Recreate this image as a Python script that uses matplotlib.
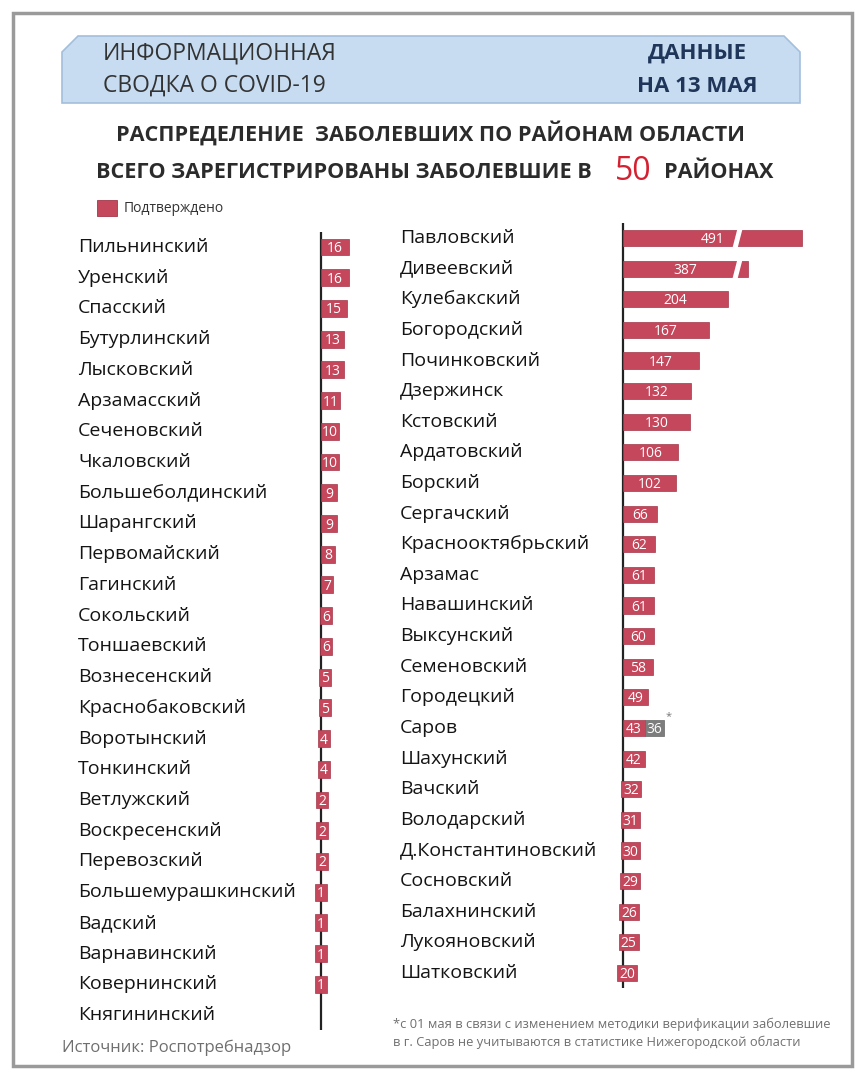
import numpy as np
import matplotlib.pyplot as plt
from matplotlib.patches import Polygon, Rectangle
from matplotlib.transforms import blended_transform_factory

plt.rcParams['font.family'] = ['Open Sans', 'DejaVu Sans']

# ---- data ----
left_names = ["Пильнинский", "Уренский", "Спасский", "Бутурлинский", "Лысковский",
              "Арзамасский", "Сеченовский", "Чкаловский", "Большеболдинский",
              "Шарангский", "Первомайский", "Гагинский", "Сокольский", "Тоншаевский",
              "Вознесенский", "Краснобаковский", "Воротынский", "Тонкинский",
              "Ветлужский", "Воскресенский", "Перевозский", "Большемурашкинский",
              "Вадский", "Варнавинский", "Ковернинский", "Княгининский"]
left_vals = [16, 16, 15, 13, 13, 11, 10, 10, 9, 9, 8, 7, 6, 6, 5, 5, 4, 4,
             2, 2, 2, 1, 1, 1, 1, 0]

right_names = ["Павловский", "Дивеевский", "Кулебакский", "Богородский",
               "Починковский", "Дзержинск", "Кстовский", "Ардатовский", "Борский",
               "Сергачский", "Краснооктябрьский", "Арзамас", "Навашинский",
               "Выксунский", "Семеновский", "Городецкий", "Саров", "Шахунский",
               "Вачский", "Володарский", "Д.Константиновский", "Сосновский",
               "Балахнинский", "Лукояновский", "Шатковский"]
right_vals = [491, 387, 204, 167, 147, 132, 130, 106, 102, 66, 62, 61, 61, 60,
              58, 49, 43, 42, 32, 31, 30, 29, 26, 25, 20]
sarov_extra = 36  # not counted since 1 May

RED = '#c4475b'
EDGE = '#a3374a'
GREY = '#7d7d7d'
TXT = '#141414'

W, H = 865, 1080
fig = plt.figure(figsize=(W / 100, H / 100), dpi=100)


def fx(x):
    return x / W


def fy(y):
    return 1 - y / H


# outer frame
fig.patches.append(Rectangle((fx(13), fy(1066)), fx(852) - fx(13), fy(13) - fy(1066),
                             transform=fig.transFigure, fill=False,
                             edgecolor='#9a9a9a', lw=2.5))

# header banner
pts = [(62, 103), (62, 52), (78, 36), (784, 36), (800, 52), (800, 103)]
fig.patches.append(Polygon([(fx(a), fy(b)) for a, b in pts], closed=True,
                           transform=fig.transFigure, facecolor='#c7dcf1',
                           edgecolor='#a4bfdb', lw=1.2))
fig.text(fx(103), fy(53), "ИНФОРМАЦИОННАЯ", fontsize=16.5, color='#333333',
         va='center', ha='left')
fig.text(fx(103), fy(86), "СВОДКА О COVID-19", fontsize=16.5, color='#333333',
         va='center', ha='left')
fig.text(fx(697), fy(53), "ДАННЫЕ", fontsize=16, color='#1f3559',
         fontweight='bold', va='center', ha='center')
fig.text(fx(697), fy(86), "НА 13 МАЯ", fontsize=16, color='#1f3559',
         fontweight='bold', va='center', ha='center')

# titles
fig.text(fx(430), fy(133), "РАСПРЕДЕЛЕНИЕ  ЗАБОЛЕВШИХ ПО РАЙОНАМ ОБЛАСТИ",
         fontsize=15.6, fontweight='bold', color='#2b2b2b', va='center', ha='center')
fig.text(fx(592), fy(172), "ВСЕГО ЗАРЕГИСТРИРОВАНЫ ЗАБОЛЕВШИЕ В",
         fontsize=15.6, fontweight='bold', color='#2b2b2b', va='center', ha='right')
fig.text(fx(633), fy(171), "50", fontsize=23, color='#d42030',
         va='center', ha='center')
fig.text(fx(664), fy(172), "РАЙОНАХ", fontsize=15.6, fontweight='bold',
         color='#2b2b2b', va='center', ha='left')

# legend
fig.patches.append(Rectangle((fx(97), fy(216)), fx(20), fy(0) - fy(16),
                             transform=fig.transFigure, facecolor=RED,
                             edgecolor=EDGE, lw=0.6))
fig.text(fx(124), fy(208), "Подтверждено", fontsize=10, color='#333333',
         va='center', ha='left')

# ---- left panel ----
axL = fig.add_axes([fx(300), fy(1030.4), fx(80), (1030.4 - 231.6) / H])
nL = len(left_names)
yL = np.arange(nL)
vL = np.array(left_vals, dtype=float)
minL = 7
wL = np.where(vL > 0, np.maximum(vL, minL), 0)
lL = -np.maximum(0, minL - vL) * 0.58
lL[vL == 0] = 0
axL.barh(yL[vL > 0], wL[vL > 0], left=lL[vL > 0], height=0.55,
         color=RED, edgecolor=EDGE, lw=0.5, zorder=3)
for i, v in enumerate(left_vals):
    if v > 0:
        axL.text(lL[i] + wL[i] / 2, i + 0.05, str(v), color='white', fontsize=10,
                 ha='center', va='center', zorder=4)
trL = blended_transform_factory(fig.transFigure, axL.transData)
for i, name in enumerate(left_names):
    axL.text(fx(78), i, name, transform=trL, fontsize=14, color=TXT,
             ha='left', va='center')
axL.axvline(0, color='#222222', lw=1.6, zorder=2)
axL.set_xlim(-12, 33.7)
axL.set_ylim(nL - 0.5, -0.5)
axL.axis('off')

# ---- right panel ----
axR = fig.add_axes([fx(600), fy(988.3), fx(230), (988.3 - 222.7) / H])
nR = len(right_names)
yR = np.arange(nR)
vR = np.array(right_vals, dtype=float)
minR = 38
cut = 144          # compression applied to the two very long (broken) bars
big = vR > 300
wR = np.where(big, vR - cut, np.maximum(vR, minR))
lR = -np.maximum(0, minR - vR) * 0.6
axR.barh(yR, wR, left=lR, height=0.53, color=RED, edgecolor=EDGE,
         lw=0.5, zorder=3)
# break marks on long bars
for i in np.where(big)[0]:
    h = 0.36
    axR.add_patch(Polygon([(212, i + h), (222, i + h), (233, i - h), (223, i - h)],
                          closed=True, facecolor='white', edgecolor='none',
                          zorder=4))
# Sarov extra (grey)
si = right_names.index("Саров")
axR.barh([si], [sarov_extra], left=wR[si] + lR[si], height=0.53, color=GREY,
         edgecolor='#666666', lw=0.5, zorder=3)
axR.text(wR[si] + lR[si] + sarov_extra / 2, si + 0.05, str(sarov_extra), color='white',
         fontsize=10, ha='center', va='center', zorder=5)
axR.text(wR[si] + lR[si] + sarov_extra + 3, si - 0.38, "*", color='#777777',
         fontsize=8, ha='left', va='center')
for i, v in enumerate(right_vals):
    axR.text(lR[i] + wR[i] / 2, i + 0.05, str(v), color='white', fontsize=10,
             ha='center', va='center', zorder=5)
trR = blended_transform_factory(fig.transFigure, axR.transData)
for i, name in enumerate(right_names):
    axR.text(fx(400), i, name, transform=trR, fontsize=14, color=TXT,
             ha='left', va='center')
axR.axvline(0, color='#222222', lw=1.6, zorder=2)
axR.set_xlim(-44.7, 401.9)
axR.set_ylim(nR - 0.5, -0.5)
axR.axis('off')

# footnotes
fig.text(fx(393), fy(1024), "*с 01 мая в связи с изменением методики верификации заболевшие",
         fontsize=9.3, color='#6f6f6f', ha='left', va='center')
fig.text(fx(393), fy(1042), "в г. Саров не учитываются в статистике Нижегородской области",
         fontsize=9.3, color='#6f6f6f', ha='left', va='center')
fig.text(fx(62), fy(1048), "Источник: Роспотребнадзор", fontsize=12,
         color='#6f6f6f', ha='left', va='center')

fig.savefig("out.png", dpi=100, facecolor='white')
